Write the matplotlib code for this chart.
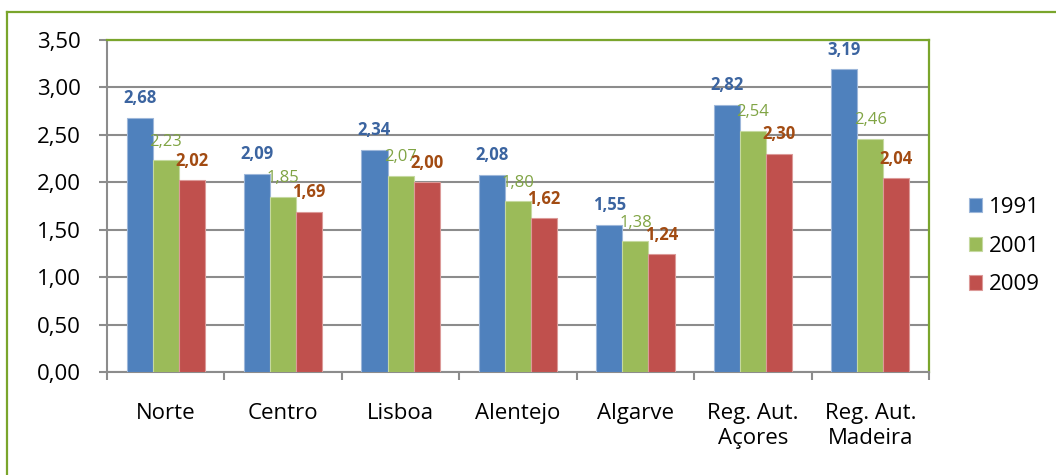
import matplotlib
matplotlib.use('Agg')
import matplotlib.pyplot as plt
from matplotlib.lines import Line2D
import numpy as np

plt.rcParams['font.family'] = ['Open Sans', 'DejaVu Sans']

regioes = ['Norte', 'Centro', 'Lisboa', 'Alentejo', 'Algarve',
           'Reg. Aut.\nAçores', 'Reg. Aut.\nMadeira']
anos = ['1991', '2001', '2009']
v1991 = [2.68, 2.09, 2.34, 2.08, 1.55, 2.82, 3.19]
v2001 = [2.23, 1.85, 2.07, 1.80, 1.38, 2.54, 2.46]
v2009 = [2.02, 1.69, 2.00, 1.62, 1.24, 2.30, 2.04]

cores = ['#4F81BD', '#9BBB59', '#C0504D']
bordas = ['#9DB7DA', '#C5D9A0', '#DC9A98']
cor_rotulo = ['#3B64A0', '#80A444', '#A24B12']
peso_rotulo = ['bold', 'normal', 'bold']
verde = '#7AA52C'
cinza = '#8C8C8C'

fig = plt.figure(figsize=(10.56, 4.75), dpi=100)
ax = fig.add_axes([107/1056, 1 - 372/475, (929 - 107)/1056, (372 - 40)/475])

# moldura verde do gráfico
fig.add_artist(Line2D([7/1056, 7/1056], [0, 1 - 12/475], transform=fig.transFigure,
                      color=verde, lw=1.6))
fig.add_artist(Line2D([7/1056, 1], [1 - 12/475, 1 - 12/475], transform=fig.transFigure,
                      color=verde, lw=1.6))

x = np.arange(len(regioes))
w = 0.222
for i, (serie, ano) in enumerate(zip([v1991, v2001, v2009], anos)):
    pos = x + (i - 1) * w
    ax.bar(pos, serie, w, color=cores[i], edgecolor=bordas[i], linewidth=0.8,
           label=ano, zorder=3)
    for px, v in zip(pos, serie):
        ax.annotate(f'{v:.2f}'.replace('.', ','), (px, v), xytext=(0, 10.5),
                    textcoords='offset points', ha='center', va='baseline',
                    fontsize=12, color=cor_rotulo[i], fontweight=peso_rotulo[i],
                    zorder=4)

ax.set_ylim(0, 3.5)
ax.set_xlim(-0.5, len(regioes) - 0.5)
yt = np.arange(0, 3.51, 0.5)
ax.set_yticks(yt)
ax.set_yticklabels([f'{t:.2f}'.replace('.', ',') for t in yt], fontsize=16)
ax.yaxis.grid(True, color=cinza, lw=1.5, zorder=0)
ax.set_axisbelow(True)

ax.set_xticks(x)
ax.set_xticklabels(regioes, fontsize=16, linespacing=1.25)
ax.set_xticks(np.arange(-0.5, len(regioes)), minor=True)
ax.tick_params(axis='x', which='major', length=0, pad=22)
ax.tick_params(axis='x', which='minor', length=6, width=1.5, color=cinza)
ax.tick_params(axis='y', length=6, width=1.5, color=cinza, pad=13)

for s in ['left', 'bottom']:
    ax.spines[s].set_color(cinza)
    ax.spines[s].set_linewidth(1.5)
for s in ['top', 'right']:
    ax.spines[s].set_color(verde)
    ax.spines[s].set_linewidth(1.6)

fig.legend(loc='center left', bbox_to_anchor=(969/1056, 1 - 246/475), frameon=False,
           fontsize=16, handlelength=0.6, handleheight=0.6, handletextpad=0.3,
           labelspacing=0.8, borderpad=0, borderaxespad=0)

fig.savefig('out.png', dpi=100)
